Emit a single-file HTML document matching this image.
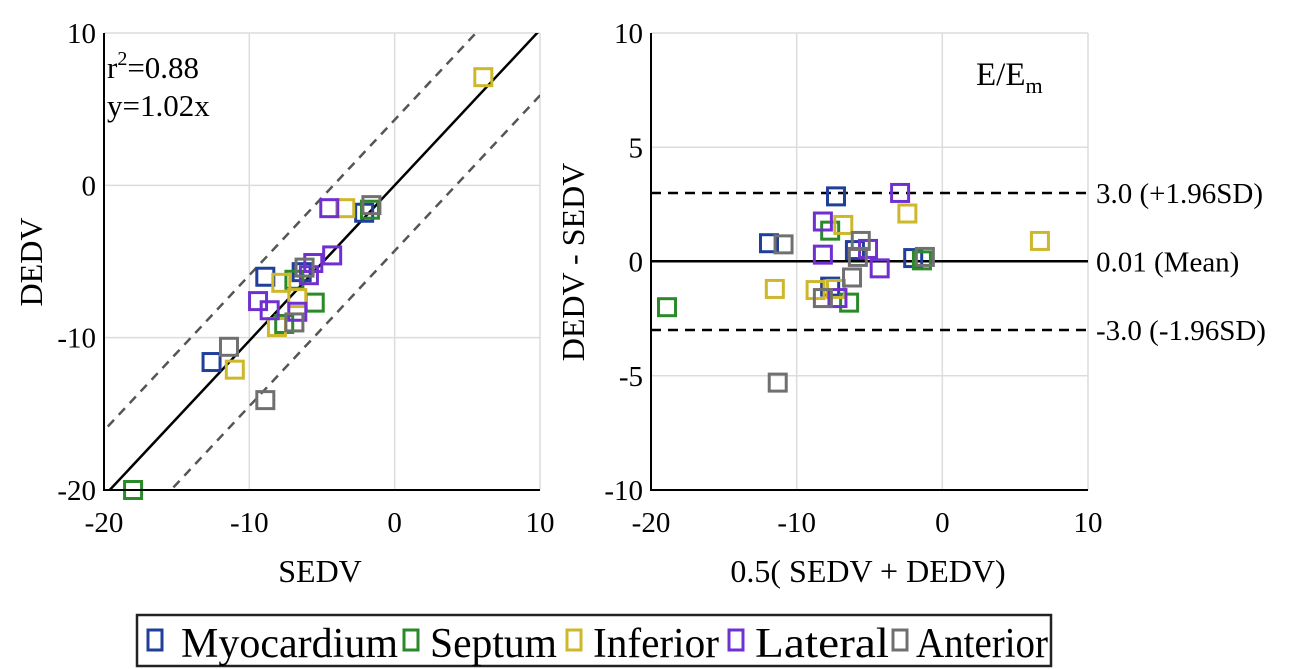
<!DOCTYPE html>
<html><head><meta charset="utf-8"><style>
body{margin:0;background:#fff}
svg{display:block;font-family:"Liberation Serif",serif}
</style></head><body>
<svg id="c" width="1307" height="669" viewBox="0 0 1307 669"></svg>
<script>
// Left scatter data
const cats=["Myocardium","Septum","Inferior","Lateral","Anterior"];
const colors=["#1f3f9a","#2a8a2a","#cdb82c","#7030d0","#707070"];
const leftX=[-12.6,-8.9,-2.1,-6.4,  -18,-1.7,-7.6,-5.5,-6.9,  -11.0,-3.4,-7.8,-8.1,-6.7,6.1,  -4.5,-4.3,-9.4,-8.6,-6.7,-5.9,-5.6,  -11.4,-8.9,-1.6,-6.9,-6.2];
const leftY=[-11.6,-6.0,-1.8,-5.7,  -20,-1.6,-9.1,-7.7,-6.2,  -12.1,-1.5,-6.4,-9.3,-7.4,7.1,  -1.5,-4.6,-7.6,-8.2,-8.3,-5.9,-5.1,  -10.6,-14.1,-1.3,-9.0,-5.4];
const leftC=[0,0,0,0, 1,1,1,1,1, 2,2,2,2,2,2, 3,3,3,3,3,3,3, 4,4,4,4,4];
// Right Bland-Altman data
const rightX=[-7.3,-11.9,-6.0,-2.0,-7.7,  -7.7,-1.4,-6.4,-18.9,  -2.4,-6.8,-8.7,-7.3,-11.5,6.7,  -2.9,-8.2,-8.2,-5.1,-4.3,-7.2,  -10.9,-5.6,-5.8,-1.2,-6.2,-8.2,-11.3];
const rightY=[2.85,0.8,0.5,0.15,-1.1,  1.35,0.05,-1.8,-2.0,  2.1,1.6,-1.25,-1.2,-1.2,0.9,  3.0,1.75,0.3,0.55,-0.3,-1.6,  0.75,0.9,0.2,0.2,-0.7,-1.6,-5.3];
const rightC=[0,0,0,0,0, 1,1,1,1, 2,2,2,2,2,2, 3,3,3,3,3,3, 4,4,4,4,4,4,4];
const ticks=[-20,-10,0,10];
const ticksR=[-10,-5,0,5,10];
const limits=[3.0,0.01,-3.0];
const limitLabels=["3.0 (+1.96SD)","0.01 (Mean)","-3.0 (-1.96SD)"];

const svg=document.getElementById('c');
const NS="http://www.w3.org/2000/svg";
function mk(t,a,p){const e=document.createElementNS(NS,t);for(const k in a)e.setAttribute(k,a[k]);(p||svg).appendChild(e);return e;}

const L={x0:104,x1:540,y0:490,y1:33};
const lx=v=>L.x0+(v+20)/30*(L.x1-L.x0);
const ly=v=>L.y0-(v+20)/30*(L.y0-L.y1);
const R={x0:651,x1:1088,y0:490,y1:33};
const rx=v=>R.x0+(v+20)/30*(R.x1-R.x0);
const ry=v=>R.y0-(v+10)/20*(R.y0-R.y1);

let g;
ticks.forEach(t=>{
  g=mk('line',{x1:lx(t),x2:lx(t),y1:L.y1,y2:L.y0,stroke:'#dcdcdc','stroke-width':1.5});
  
  g=mk('line',{x1:L.x0,x2:L.x1,y1:ly(t),y2:ly(t),stroke:'#dcdcdc','stroke-width':1.5});
  
});
ticksR.forEach(t=>{
  g=mk('line',{x1:R.x0,x2:R.x1,y1:ry(t),y2:ry(t),stroke:'#dcdcdc','stroke-width':1.5});
  
});
ticks.forEach(t=>{
  g=mk('line',{x1:rx(t),x2:rx(t),y1:R.y1,y2:R.y0,stroke:'#dcdcdc','stroke-width':1.5});
  
});
const defs=mk('defs',{});
const cpL=mk('clipPath',{id:'cl'},defs);mk('rect',{x:L.x0,y:L.y1,width:L.x1-L.x0,height:L.y0-L.y1},cpL);
g=mk('line',{x1:lx(-20),y1:ly(-20*1.02),x2:lx(10),y2:ly(10*1.02),stroke:'#000','stroke-width':2.5,'clip-path':'url(#cl)'});

[4.3,-4.3].forEach(o=>{
  g=mk('line',{x1:lx(-25),y1:ly(-25*1.02+o),x2:lx(15),y2:ly(15*1.02+o),stroke:'#555','stroke-width':2.5,'stroke-dasharray':'9,7','clip-path':'url(#cl)'});
  
});
limits.forEach((v,i)=>{
  g=mk('line',{x1:R.x0,x2:R.x1,y1:ry(v),y2:ry(v),stroke:'#000','stroke-width':2.5,'stroke-dasharray':i==1?'none':'10,7'});
  
  g=mk('text',{x:1096,y:ry(v)+10,'font-size':29});g.textContent=limitLabels[i];
  
});
function pts(X,Y,C,fx,fy,name){
  X.forEach((x,i)=>{
    g=mk('rect',{x:fx(x)-8.5,y:fy(Y[i])-8.5,width:17,height:17,fill:'none',stroke:colors[C[i]],'stroke-width':3});
    
  });
}
pts(leftX,leftY,leftC,lx,ly,'left-point');
pts(rightX,rightY,rightC,rx,ry,'right-point');
g=mk('path',{d:`M${L.x0} ${L.y1}V${L.y0}H${L.x1}`,fill:'none',stroke:'#000','stroke-width':2});

g=mk('path',{d:`M${R.x0} ${R.y1}V${R.y0}H${R.x1}`,fill:'none',stroke:'#000','stroke-width':2});

ticks.forEach(t=>{
  g=mk('text',{x:lx(t),y:532,'font-size':29,'text-anchor':'middle'});g.textContent=t;
  
  g=mk('text',{x:L.x0-8,y:ly(t)+10,'font-size':29,'text-anchor':'end'});g.textContent=t;
  
  g=mk('text',{x:rx(t),y:532,'font-size':29,'text-anchor':'middle'});g.textContent=t;
  
});
ticksR.forEach(t=>{
  g=mk('text',{x:R.x0-8,y:ry(t)+10,'font-size':29,'text-anchor':'end'});g.textContent=t;
  
});
</script>
<svg width="1307" height="669" style="position:absolute;left:0;top:0;font-family:'Liberation Serif',serif">
<text x="320" y="582" font-size="32" text-anchor="middle">SEDV</text>
<text x="0" y="0" font-size="32" text-anchor="middle" transform="translate(42,262) rotate(-90)">DEDV</text>
<text x="107" y="78" font-size="31">r<tspan dy="-13" font-size="20">2</tspan><tspan dy="13">=0.88</tspan></text>
<text x="107" y="116" font-size="31">y=1.02x</text>
<text x="868" y="582" font-size="32" text-anchor="middle">0.5( SEDV + DEDV)</text>
<text x="0" y="0" font-size="32" text-anchor="middle" transform="translate(584,262) rotate(-90)">DEDV - SEDV</text>
<text x="976" y="85" font-size="33">E/E<tspan dy="8" font-size="22">m</tspan></text>
<g>
<rect x="137" y="615" width="914" height="51" fill="#fff" stroke="#222" stroke-width="2.5"/>
<rect x="148" y="630" width="14" height="20" fill="none" stroke="#1f3f9a" stroke-width="3"/>
<text x="181" y="657" font-size="42" textLength="217" lengthAdjust="spacingAndGlyphs">Myocardium</text>
<rect x="404" y="630" width="14" height="20" fill="none" stroke="#2a8a2a" stroke-width="3"/>
<text x="430" y="657" font-size="42" textLength="127" lengthAdjust="spacingAndGlyphs">Septum</text>
<rect x="567" y="630" width="14" height="20" fill="none" stroke="#cdb82c" stroke-width="3"/>
<text x="593" y="657" font-size="42" textLength="126" lengthAdjust="spacingAndGlyphs">Inferior</text>
<rect x="729" y="630" width="14" height="20" fill="none" stroke="#7030d0" stroke-width="3"/>
<text x="755" y="657" font-size="42" textLength="134" lengthAdjust="spacingAndGlyphs">Lateral</text>
<rect x="893" y="630" width="14" height="20" fill="none" stroke="#707070" stroke-width="3"/>
<text x="916" y="657" font-size="42" textLength="132" lengthAdjust="spacingAndGlyphs">Anterior</text>
</g>
</svg>
</body></html>
